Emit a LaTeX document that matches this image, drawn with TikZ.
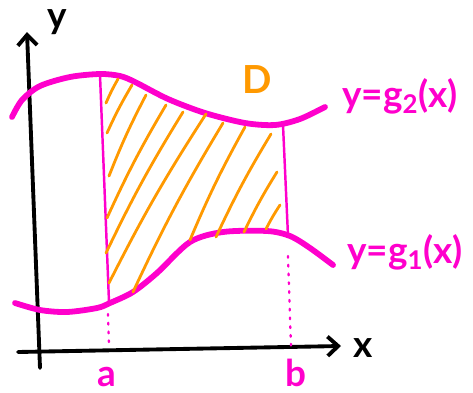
\documentclass[tikz,border=0pt]{standalone}
\usepackage{fontspec}
\setmainfont{Lato}
\usetikzlibrary{arrows.meta}
\definecolor{magline}{RGB}{255,0,204}
\definecolor{orhatch}{RGB}{255,153,0}

\begin{document}
\begin{tikzpicture}[x=0.02cm, y=-0.02cm,
    curve/.style={magline, line width=3.3pt, line cap=round},
    side/.style={magline, line width=1.4pt},
    hatch/.style={orhatch, line width=1.6pt, line cap=round},
    guide/.style={magline, line width=1.3pt, line cap=round, dash pattern=on 1pt off 4pt},
    axis/.style={black, line width=2.2pt, line cap=round, -{Straight Barb[length=6pt,width=11pt]}},
    lbl/.style={font=\fontsize{21}{25}\selectfont\bfseries, inner sep=0pt}]
    \useasboundingbox (0,0) rectangle (473,392);
    \coordinate (O1) at (18,352);
    \coordinate (X) at (341,346);
    \coordinate (O2) at (40,368);
    \coordinate (Y) at (27,32);
    \draw[axis] (O1) -- (X);
    \draw[axis] (O2) -- (Y);
    \node[lbl, anchor=base] (xlab) at (363,357) {x};
    \node[lbl, anchor=base] (ylab) at (57,29) {y};
    \draw[curve] plot[smooth] coordinates {(12,117) (22,100) (40,86) (70,77) (100,74) (120,76)
      (135,82) (168,99) (205,113) (245,123) (275,125) (300,119) (325,107)};
    \draw[curve] plot[smooth] coordinates {(15,303) (40,310) (67,312) (97,308) (110,303)
      (133,292) (157,273) (190,242) (223,232) (267,231) (290,236) (310,248) (333,265)};
    \coordinate (A1) at (100,75);
    \coordinate (A2) at (109,302);
    \coordinate (B1) at (283,125);
    \coordinate (B2) at (288,236);
    \coordinate (A3) at (108,314);
    \coordinate (A4) at (109,345);
    \coordinate (B3) at (288,256);
    \coordinate (B4) at (291,347);
    \draw[side] (A1) -- (A2);
    \draw[side] (B1) -- (B2);
    \draw[guide] (A3) -- (A4);
    \draw[guide] (B3) -- (B4);
    \foreach \sx/\sy/\ex/\ey in {106/103/118/79, 107/133/132/85, 109/176/146/95,
      107/218/166/105, 106/253/183/112, 109/283/206/114, 133/292/223/123,
      190/240/245/127, 216/237/271/134, 244/232/277/172, 266/229/280/205}
      \draw[hatch] (\sx,\sy) to[bend left=3] (\ex,\ey);
    \node[lbl, anchor=base, text=orhatch, font=\fontsize{22}{26}\selectfont\bfseries] (dlab) at (257,93) {D};
    \node[lbl, anchor=base west, text=magline] (gtwo) at (342,107) {y=g\textsubscript{2}(x)};
    \node[lbl, anchor=base west, text=magline] (gone) at (347,263) {y=g\textsubscript{1}(x)};
    \node[lbl, anchor=base, text=magline] (alab) at (107,386) {a};
    \node[lbl, anchor=base, text=magline] (blab) at (296,386) {b};
\end{tikzpicture}
\end{document}
